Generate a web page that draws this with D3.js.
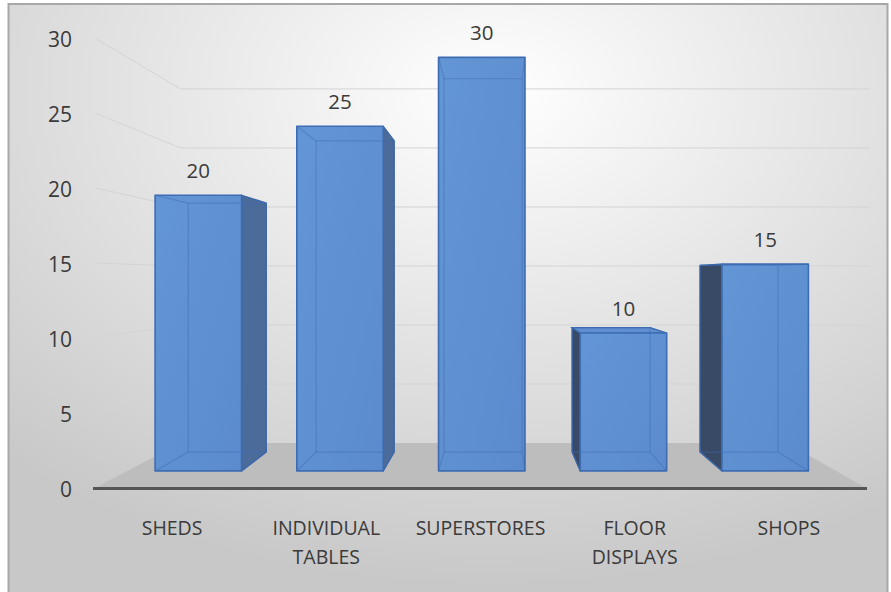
<!DOCTYPE html>
<html>
<head>
<meta charset="utf-8">
<script src="https://cdn.jsdelivr.net/npm/d3@7"></script>
<style>
  html, body { margin: 0; padding: 0; background: #ffffff; }
  svg { display: block; }
  text { font-family: "Open Sans", "Noto Sans", sans-serif; fill: #3a3a3a; }
</style>
</head>
<body>
<svg id="chart" width="891" height="592"></svg>
<script>
// Data
const categories = ["SHEDS", "INDIVIDUAL TABLES", "SUPERSTORES", "FLOOR DISPLAYS", "SHOPS"];
const categoryLines = [["SHEDS"], ["INDIVIDUAL", "TABLES"], ["SUPERSTORES"], ["FLOOR", "DISPLAYS"], ["SHOPS"]];
const values = [20, 25, 30, 10, 15];
const yTicks = [0, 5, 10, 15, 20, 25, 30];

const W = 891, H = 592;
const svg = d3.select("#chart");

// Perspective set-up: world coordinates live on the front plane, depth shrinks toward a vanishing point
const vanish = { x: 496, y: 277 };
const depthScale = d3.scaleLinear().domain([0, 1]).range([1, 0.787]); // 0 = front edge, 1 = back wall
const barFrontDepth = 0.38, barBackDepth = 0.80;

const x = d3.scaleBand().domain(categories).range([95, 866]).paddingInner(0.39).paddingOuter(0.195);
const y = d3.scaleLinear().domain([0, 30]).range([488, 38]);

function project(wx, wy, depth) {
  const s = depthScale(depth);
  return [vanish.x + (wx - vanish.x) * s, vanish.y + (wy - vanish.y) * s];
}
const line = pts => "M" + pts.map(p => p.join(",")).join("L");
const poly = pts => line(pts) + "Z";

// Background panel
const defs = svg.append("defs");
const bg = defs.append("radialGradient").attr("id", "bgGrad")
  .attr("cx", "55%").attr("cy", "15%").attr("r", "82%");
bg.append("stop").attr("offset", "0%").attr("stop-color", "#ffffff");
bg.append("stop").attr("offset", "40%").attr("stop-color", "#e9e9e9");
bg.append("stop").attr("offset", "100%").attr("stop-color", "#c8c8c8");

const front = defs.append("linearGradient").attr("id", "frontGrad")
  .attr("x1", "0%").attr("y1", "0%").attr("x2", "100%").attr("y2", "100%");
front.append("stop").attr("offset", "0%").attr("stop-color", "#6396d6");
front.append("stop").attr("offset", "100%").attr("stop-color", "#5b8bcc");

svg.append("rect").attr("x", 0).attr("y", 0).attr("width", W).attr("height", H).attr("fill", "#ffffff");
svg.append("rect").attr("x", 8.5).attr("y", 4).attr("width", 879).attr("height", 600)
  .attr("fill", "url(#bgGrad)").attr("stroke", "#a8a8a8").attr("stroke-width", 2);

const [xMin, xMax] = x.range();

// Gridlines: slanted along the left wall, then flat across the back wall
const grid = svg.append("g").attr("fill", "none").attr("stroke", "#d4d4d4").attr("stroke-width", 1);
yTicks.filter(t => t > 0).forEach(t => {
  const a = project(xMin, y(t), 0);
  const b = project(xMin, y(t), 1);
  grid.append("path").attr("d", line([a, b, [xMax + 4, b[1]]]));
});

// Floor
svg.append("path")
  .attr("d", poly([project(xMin, y(0), 0), project(xMin, y(0), 1), project(xMax, y(0), 1), project(xMax, y(0), 0)]))
  .attr("fill", "#bdbdbd");

// Axis line along the floor's front edge
svg.append("path")
  .attr("d", line([[xMin - 2, y(0) + 0.5], [xMax + 1, y(0) + 0.5]]))
  .attr("stroke", "#555555").attr("stroke-width", 3).attr("fill", "none");

// Y tick labels
svg.append("g").selectAll("text").data(yTicks).join("text")
  .attr("x", 72).attr("y", d => y(d) + 1).attr("dy", "0.36em")
  .attr("text-anchor", "end").attr("font-size", 21).text(d => d);

// Bars as perspective boxes
const barsG = svg.append("g");
categories.forEach((c, i) => {
  const v = values[i];
  const xl = x(c), xr = x(c) + x.bandwidth();
  const y0 = y(0), y1 = y(v);
  const FLB = project(xl, y0, barFrontDepth), FRB = project(xr, y0, barFrontDepth);
  const FLT = project(xl, y1, barFrontDepth), FRT = project(xr, y1, barFrontDepth);
  const BLB = project(xl, y0, barBackDepth), BRB = project(xr, y0, barBackDepth);
  const BLT = project(xl, y1, barBackDepth), BRT = project(xr, y1, barBackDepth);
  const g = barsG.append("g");

  g.append("path").attr("d", poly([BLB, BRB, BRT, BLT])).attr("fill", "#5b8bcc");

  const sides = [];
  if (xr < vanish.x) sides.push({ pts: [FRB, BRB, BRT, FRT], fill: "#4b6b9a" });
  if (xl > vanish.x) sides.push({ pts: [FLB, BLB, BLT, FLT], fill: "#394a66" });
  sides.forEach(s => g.append("path").attr("d", poly(s.pts)).attr("fill", s.fill)
    .attr("stroke", "#3a64a3").attr("stroke-width", 1.2).attr("stroke-linejoin", "round"));

  if (y1 > vanish.y) {
    g.append("path").attr("d", poly([FLT, FRT, BRT, BLT])).attr("fill", "#5f8fd2")
      .attr("stroke", "#3d6cb2").attr("stroke-width", 1.2);
  }

  g.append("path").attr("d", poly([FLB, FRB, FRT, FLT])).attr("fill", "url(#frontGrad)");

  // Edges seen through the translucent front face
  const hidden = [[BLB, BRB], [BLT, BRT], [BLB, BLT], [BRB, BRT], [FLB, BLB], [FRB, BRB], [FLT, BLT], [FRT, BRT]];
  hidden.forEach(e => g.append("path").attr("d", line(e))
    .attr("stroke", "#3f6db3").attr("stroke-opacity", 0.45).attr("stroke-width", 1.2).attr("fill", "none"));

  g.append("path").attr("d", poly([FLB, FRB, FRT, FLT])).attr("fill", "none")
    .attr("stroke", "#3d6cb2").attr("stroke-width", 1.6).attr("stroke-linejoin", "round");

  // Value label above the front face
  const cx = (FLT[0] + FRT[0]) / 2;
  svg.append("text").attr("x", cx).attr("y", FLT[1] - 17)
    .attr("text-anchor", "middle").attr("font-size", 20.5).text(v);
});

// Category labels
const catG = svg.append("g");
categories.forEach((c, i) => {
  const t = catG.append("text").attr("text-anchor", "middle").attr("font-size", 19.5);
  categoryLines[i].forEach((ln, k) => {
    t.append("tspan").attr("x", x(c) + x.bandwidth() / 2).attr("y", 535 + k * 29).text(ln);
  });
});
</script>
</body>
</html>
